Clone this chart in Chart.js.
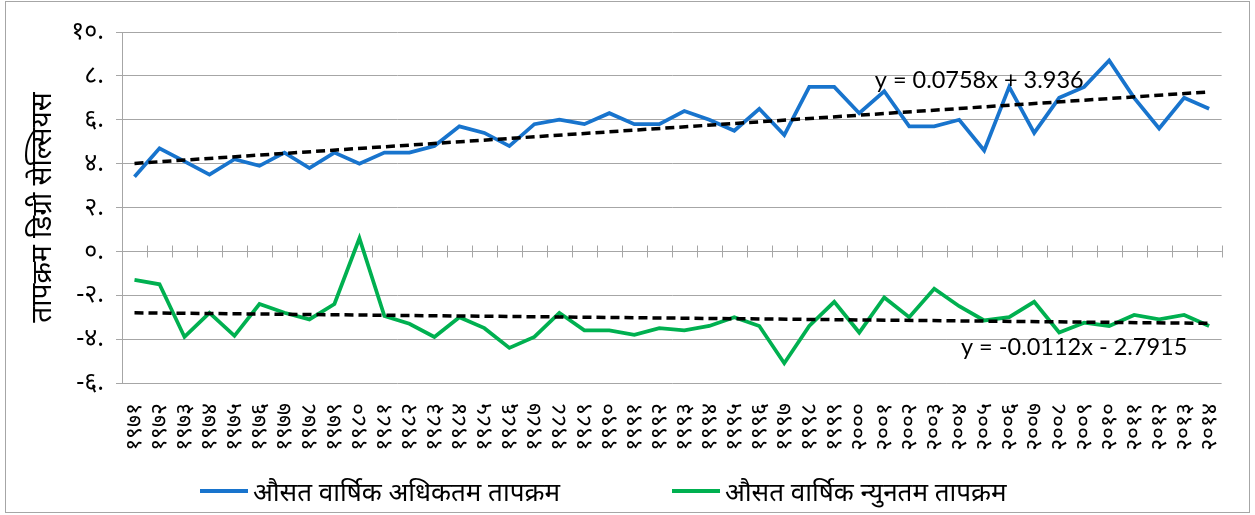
<!DOCTYPE html>
<html>
<head>
<meta charset="utf-8">
<script src="https://cdn.jsdelivr.net/npm/chart.js@4.4.1/dist/chart.umd.min.js"></script>
<style>
  html, body { margin: 0; padding: 0; background: #fff; }
  #frame {
    position: absolute; left: 5px; top: 1px; width: 1245px; height: 512px;
    box-sizing: border-box; border: 1px solid #a6a6a6; background: #fff;
  }
  #chart { position: absolute; left: 0; top: 0; }
  #legend {
    position: absolute; left: 194px; top: 471px; display: flex; align-items: center;
    font-family: 'Noto Sans', sans-serif; font-size: 26px; color: #000;
  }
  .item { display: flex; align-items: center; margin-right: 112px; }
  .swatch { width: 48px; height: 4px; margin-right: 5px; }
</style>
</head>
<body>
<div id="frame">
  <canvas id="chart" width="1243" height="510"></canvas>
  <div id="legend"></div>
</div>
<script>
const years = ['१९७१', '१९७२', '१९७३', '१९७४', '१९७५', '१९७६', '१९७७', '१९७८', '१९७९', '१९८०',
  '१९८१', '१९८२', '१९८३', '१९८४', '१९८५', '१९८६', '१९८७', '१९८८', '१९८९', '१९९०',
  '१९९१', '१९९२', '१९९३', '१९९४', '१९९५', '१९९६', '१९९७', '१९९८', '१९९९', '२०००',
  '२००१', '२००२', '२००३', '२००४', '२००५', '२००६', '२००७', '२००८', '२००९', '२०१०',
  '२०११', '२०१२', '२०१३', '२०१४'];

// औसत वार्षिक अधिकतम तापक्रम
const maxTemp = [3.4, 4.7, 4.1, 3.5, 4.2, 3.9, 4.5, 3.8, 4.5, 4.0,
  4.5, 4.5, 4.8, 5.7, 5.4, 4.8, 5.8, 6.0, 5.8, 6.3,
  5.8, 5.8, 6.4, 6.0, 5.5, 6.5, 5.3, 7.5, 7.5, 6.3,
  7.3, 5.7, 5.7, 6.0, 4.6, 7.5, 5.4, 7.0, 7.5, 8.7,
  7.0, 5.6, 7.0, 6.5];

// औसत वार्षिक न्युनतम तापक्रम
const minTemp = [-1.3, -1.5, -3.9, -2.8, -3.85, -2.4, -2.8, -3.1, -2.4, 0.6,
  -2.95, -3.3, -3.9, -3.0, -3.5, -4.4, -3.9, -2.8, -3.6, -3.6,
  -3.8, -3.5, -3.6, -3.4, -3.0, -3.4, -5.1, -3.4, -2.3, -3.7,
  -2.1, -3.0, -1.7, -2.5, -3.15, -3.0, -2.3, -3.7, -3.25, -3.4,
  -2.9, -3.1, -2.9, -3.4];

// trend line end values (first and last year)
const maxTrendEnds = [4.01, 7.27];
const minTrendEnds = [-2.80, -3.28];
const maxTrendText = 'y = 0.0758x + 3.936';
const minTrendText = 'y = -0.0112x - 2.7915';

const yTickValues = [10, 8, 6, 4, 2, 0, -2, -4, -6];
const yTickLabels = ['१०.', '८.', '६.', '४.', '२.', '०.', '-२.', '-४.', '-६.'];

const seriesNames = ['औसत वार्षिक अधिकतम तापक्रम', 'औसत वार्षिक न्युनतम तापक्रम'];
const yTitle = 'तापक्रम डिग्री सेल्सियस';

const gridColor = '#a6a6a6';
const blue = '#1874CD';
const green = '#00B050';

// axis through zero with Excel style crossing tick marks
const zeroAxis = {
  id: 'zeroAxis',
  beforeDatasetsDraw(chart) {
    const { ctx, chartArea, scales: { x, y } } = chart;
    const y0 = Math.round(y.getPixelForValue(0)) + 0.5;
    ctx.save();
    ctx.strokeStyle = gridColor;
    ctx.lineWidth = 1;
    ctx.beginPath();
    ctx.moveTo(chartArea.left, y0);
    ctx.lineTo(chartArea.right, y0);
    for (let i = 0; i <= years.length; i++) {
      const px = Math.round(x.getPixelForValue(i - 0.5)) + 0.5;
      ctx.moveTo(px, y0 - 6);
      ctx.lineTo(px, y0 + 6);
    }
    ctx.stroke();
    ctx.restore();
  }
};

// trendline equations
const trendLabels = {
  id: 'trendLabels',
  afterDatasetsDraw(chart) {
    const { ctx, scales: { x, y } } = chart;
    ctx.save();
    ctx.font = '23.5px Lato';
    ctx.fillStyle = '#000';
    ctx.textAlign = 'center';
    ctx.textBaseline = 'middle';
    ctx.fillText(maxTrendText, x.getPixelForValue(33.8), y.getPixelForValue(7.8));
    ctx.fillText(minTrendText, x.getPixelForValue(37.6), y.getPixelForValue(-4.4));
    ctx.restore();
  }
};

Chart.defaults.font.family = "'Noto Sans', sans-serif";
Chart.defaults.color = '#000';

const chart = new Chart(document.getElementById('chart'), {
  type: 'line',
  data: {
    labels: years,
    datasets: [
      {
        label: seriesNames[0],
        data: maxTemp,
        borderColor: blue,
        backgroundColor: blue,
        borderWidth: 3.75,
        pointRadius: 0,
        tension: 0,
        order: 2
      },
      {
        label: seriesNames[1],
        data: minTemp,
        borderColor: green,
        backgroundColor: green,
        borderWidth: 3.75,
        pointRadius: 0,
        tension: 0,
        order: 2
      },
      {
        label: 'trendMax',
        data: [{ x: years[0], y: maxTrendEnds[0] }, { x: years[years.length - 1], y: maxTrendEnds[1] }],
        borderColor: '#000',
        borderWidth: 3.5,
        borderDash: [9, 5],
        pointRadius: 0,
        order: 1
      },
      {
        label: 'trendMin',
        data: [{ x: years[0], y: minTrendEnds[0] }, { x: years[years.length - 1], y: minTrendEnds[1] }],
        borderColor: '#000',
        borderWidth: 3.5,
        borderDash: [9, 5],
        pointRadius: 0,
        order: 1
      }
    ]
  },
  options: {
    responsive: false,
    animation: false,
    layout: { padding: { left: 0, right: 24, top: 30, bottom: 59 } },
    plugins: {
      legend: { display: false },
      tooltip: { enabled: false }
    },
    scales: {
      x: {
        offset: true,
        grid: { display: false },
        border: { display: false },
        ticks: {
          autoSkip: false,
          minRotation: 90,
          maxRotation: 90,
          padding: 12,
          font: { size: 23 }
        },
        afterFit(scale) { scale.height = 70; }
      },
      y: {
        min: -6,
        max: 10,
        afterBuildTicks(scale) { scale.ticks = yTickValues.map(v => ({ value: v })); },
        grid: { color: gridColor, tickLength: 6 },
        border: { display: true, color: gridColor },
        ticks: {
          padding: 12,
          font: { size: 25 },
          callback: (v) => yTickLabels[yTickValues.indexOf(v)]
        },
        title: {
          display: true,
          text: yTitle,
          font: { size: 28 },
          padding: { top: 20, bottom: 0 }
        },
        afterFit(scale) { scale.width = 116; }
      }
    }
  },
  plugins: [zeroAxis, trendLabels]
});

// legend as in the original, built from the datasets
const legend = document.getElementById('legend');
chart.data.datasets.slice(0, 2).forEach(ds => {
  const item = document.createElement('div');
  item.className = 'item';
  const sw = document.createElement('span');
  sw.className = 'swatch';
  sw.style.background = ds.borderColor;
  const tx = document.createElement('span');
  tx.textContent = ds.label;
  item.appendChild(sw);
  item.appendChild(tx);
  legend.appendChild(item);
});
</script>
</body>
</html>
